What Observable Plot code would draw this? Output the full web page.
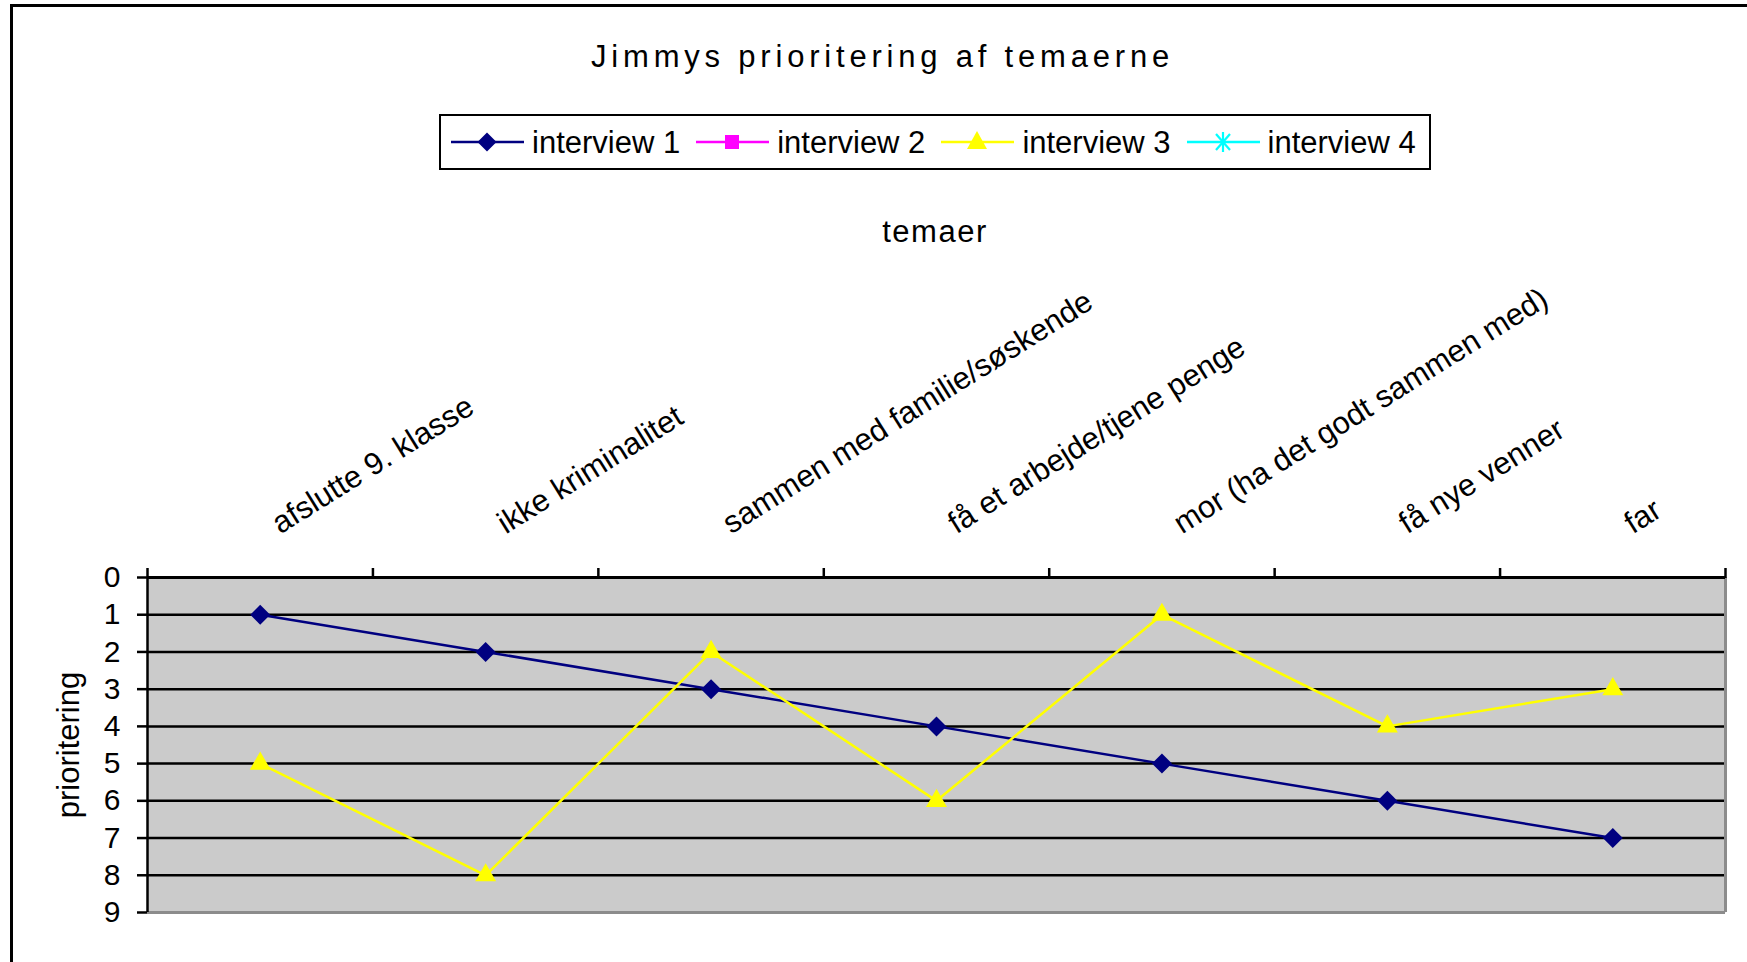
<!DOCTYPE html>
<html><head><meta charset="utf-8">
<script src="https://cdn.jsdelivr.net/npm/d3@7"></script>
<script src="https://cdn.jsdelivr.net/npm/@observablehq/plot@0.6"></script>
<style>
body{margin:0;background:#fff;font-family:"Liberation Sans",Arial,sans-serif;color:#000;}
#root{position:relative;width:1747px;height:962px;overflow:hidden;background:#fff;}
#frame{position:absolute;left:10px;top:4px;width:1800px;height:1000px;border-left:3px solid #000;border-top:3px solid #000;}
#title{position:absolute;left:0;top:41px;width:1765px;text-align:center;font-size:31px;line-height:31px;letter-spacing:4.8px;white-space:nowrap;}
#legend{position:absolute;left:439px;top:114px;width:978px;height:52px;border:2px solid #000;display:flex;align-items:center;padding-left:10px;}
.item{display:flex;align-items:center;margin-right:16px;}
.item span{font-size:31px;line-height:31px;margin-left:8px;white-space:nowrap;}
#xlabel{position:absolute;left:0;top:216px;width:1870px;text-align:center;font-size:31px;line-height:31px;letter-spacing:1.5px;}
#chart{position:absolute;left:0;top:260px;}
</style>
</head><body>
<div id="root">
  <div id="frame"></div>
  <div id="title"></div>
  <div id="legend"></div>
  <div id="xlabel"></div>
  <div id="chart"></div>
</div>
<script>
// ---- data ----
const titleText = "Jimmys prioritering af temaerne";
const xTitle = "temaer";
const yTitle = "prioritering";
const categories = [
  "afslutte 9. klasse",
  "ikke kriminalitet",
  "sammen med familie/søskende",
  "få et arbejde/tjene penge",
  "mor (ha det godt sammen med)",
  "få nye venner",
  "far"
];
const seriesNames = ["interview 1", "interview 2", "interview 3", "interview 4"];
const seriesColors = ["#000080", "#ff00ff", "#ffff00", "#00ffff"];
const seriesSymbols = ["diamond2", "square", "triangle2", "asterisk"];
const interview1 = [1, 2, 3, 4, 5, 6, 7];
const interview2 = [];
const interview3 = [5, 8, 2, 6, 1, 4, 3];
const interview4 = [];
const yTicks = [0, 1, 2, 3, 4, 5, 6, 7, 8, 9];

// ---- header ----
document.getElementById("title").textContent = titleText;
document.getElementById("xlabel").textContent = xTitle;

const legend = d3.select("#legend");
seriesNames.forEach((name, k) => {
  const item = legend.append("div").attr("class", "item");
  const svg = item.append("svg").attr("width", 73).attr("height", 30);
  const c = seriesColors[k];
  svg.append("line").attr("x1", 0).attr("x2", 73).attr("y1", 15).attr("y2", 15)
    .attr("stroke", c).attr("stroke-width", 2.5);
  const cx = 36, cy = 15;
  const s = seriesSymbols[k];
  if (s === "diamond2") {
    svg.append("polygon").attr("points", `${cx},${cy-9.5} ${cx+9.5},${cy} ${cx},${cy+9.5} ${cx-9.5},${cy}`).attr("fill", c);
  } else if (s === "square") {
    svg.append("rect").attr("x", cx-7).attr("y", cy-7).attr("width", 14).attr("height", 14).attr("fill", c);
  } else if (s === "triangle2") {
    svg.append("polygon").attr("points", `${cx},${cy-11} ${cx+10},${cy+7} ${cx-10},${cy+7}`).attr("fill", c);
  } else {
    const g = svg.append("g").attr("stroke", c).attr("stroke-width", 2.2);
    g.append("line").attr("x1", cx-7).attr("y1", cy-8).attr("x2", cx+7).attr("y2", cy+8);
    g.append("line").attr("x1", cx+7).attr("y1", cy-8).attr("x2", cx-7).attr("y2", cy+8);
    g.append("line").attr("x1", cx).attr("y1", cy-10).attr("x2", cx).attr("y2", cy+10);
  }
  item.append("span").text(name);
});

// ---- chart ----
const series = [interview1, interview2, interview3, interview4];
const rows = [];
series.forEach((vals, k) => vals.forEach((v, i) => rows.push({series: seriesNames[k], i: i + 0.5, cat: categories[i], v})));
const s1 = rows.filter(d => d.series === seriesNames[0]);
const s3 = rows.filter(d => d.series === seriesNames[2]);

const chart = Plot.plot({
  width: 1747,
  height: 702,
  marginLeft: 147,
  marginRight: 22,
  marginTop: 317,
  marginBottom: 50,
  style: {fontFamily: "'Liberation Sans', Arial, sans-serif", fontSize: "31px", color: "#000", background: "transparent", overflow: "visible"},
  x: {domain: [0, categories.length], axis: null},
  y: {domain: [0, 9], reverse: true, axis: null},
  marks: [
    Plot.frame({fill: "#cbcbcb", stroke: null}),
    Plot.gridY({ticks: yTicks.slice(1, -1), stroke: "#000", strokeOpacity: 1, strokeWidth: 2.5}),
    Plot.ruleY([9], {stroke: "#8c8c8c", strokeWidth: 3}),
    Plot.ruleX([categories.length], {stroke: "#8c8c8c", strokeWidth: 3}),
    Plot.ruleX([0], {stroke: "#000", strokeWidth: 2.5}),
    Plot.ruleY([0], {stroke: "#000", strokeWidth: 3}),
    Plot.axisX({anchor: "top", ticks: d3.range(categories.length + 1), tickSize: 10, tickFormat: () => "", strokeWidth: 2.5, label: null}),
    Plot.axisY({anchor: "left", ticks: yTicks, tickSize: 10, tickPadding: 17, fontSize: 30, strokeWidth: 2.5, label: null}),
    Plot.text(categories, {x: (d, i) => i + 0.5, text: d => d, frameAnchor: "top", dx: 20, dy: -43, rotate: -32, textAnchor: "start", lineAnchor: "bottom", fontSize: 31, fill: "#000"}),
    Plot.text([yTitle], {text: d => d, frameAnchor: "left", dx: -78, rotate: -90, textAnchor: "middle", lineAnchor: "middle", fontSize: 31, fill: "#000"}),
    Plot.line(s1, {x: "i", y: "v", stroke: seriesColors[0], strokeWidth: 2.5}),
    Plot.line(s3, {x: "i", y: "v", stroke: seriesColors[2], strokeWidth: 2.5}),
    Plot.dot(s1, {x: "i", y: "v", symbol: seriesSymbols[0], fill: seriesColors[0], r: 9}),
    Plot.dot(s3, {x: "i", y: "v", symbol: seriesSymbols[2], fill: seriesColors[2], r: 10})
  ]
});
document.getElementById("chart").append(chart);
</script>
</body></html>
